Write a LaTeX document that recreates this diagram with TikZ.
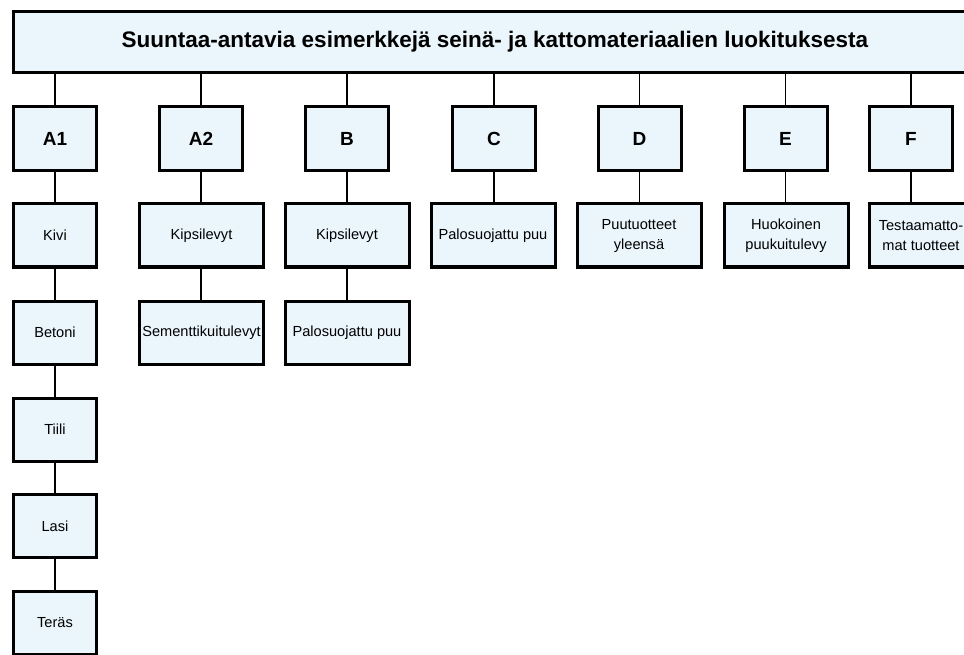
\documentclass[tikz,border=0pt]{standalone}
\usepackage{fontspec}
\setmainfont{Liberation Sans}
\definecolor{boxfill}{RGB}{234,246,251}
\begin{document}
\begin{tikzpicture}[x=1pt,y=-1pt,
  base/.style={draw=black,fill=boxfill,line width=3pt,rectangle,inner sep=0pt,align=center},
  titlebox/.style={base,minimum width=963pt,minimum height=61pt,font=\fontsize{22.5}{26}\selectfont\bfseries},
  lvl/.style={base,minimum width=83pt,minimum height=64pt,font=\fontsize{19}{22}\selectfont\bfseries},
  narrow/.style={base,minimum width=83pt,minimum height=63pt,font=\fontsize{14.6}{20}\selectfont},
  wide/.style={base,minimum width=124pt,minimum height=63pt,font=\fontsize{14.6}{20}\selectfont},
  conn/.style={draw=black,line width=1.3pt}]
\useasboundingbox (0,0) rectangle (964,655);
\clip (0,0) rectangle (964,655);
% title
\node[titlebox] (title) at (495,42) {Suuntaa-antavia esimerkkejä seinä- ja kattomateriaalien luokituksesta};
% level boxes
\node[lvl] (A1) at (55,138.5) {A1};
\node[lvl] (A2) at (201,138.5) {A2};
\node[lvl] (B) at (347,138.5) {B};
\node[lvl] (C) at (494,138.5) {C};
\node[lvl] (D) at (639.5,138.5) {D};
\node[lvl] (E) at (785.5,138.5) {E};
\node[lvl] (F) at (911,138.5) {F};
% A1 column
\node[narrow] (kivi) at (55,235.5) {Kivi};
\node[narrow] (betoni) at (55,332.5) {Betoni};
\node[narrow] (tiili) at (55,429.5) {Tiili};
\node[narrow] (lasi) at (55,526) {Lasi};
\node[narrow] (teras) at (55,623) {Teräs};
% A2 column
\node[wide] (a2kipsi) at (201.5,235.5) {Kipsilevyt};
\node[wide] (sementti) at (201.5,332.5) {Sementtikuitulevyt};
% B column
\node[wide] (bkipsi) at (347,235.5) {Kipsilevyt};
\node[wide] (bpalo) at (347,332.5) {Palosuojattu puu};
% C, D, E, F
\node[wide] (cpalo) at (493,235.5) {Palosuojattu puu};
\node[wide] (dpuu) at (639,235.5) {Puutuotteet\\yleensä};
\node[wide] (ehuok) at (786,235.5) {Huokoinen\\puukuitulevy};
\node[base,minimum width=103pt,minimum height=63pt,font=\fontsize{14.6}{20}\selectfont] (ftest) at (921,235.5) {Testaamatto-\\mat tuotteet};
% connectors title -> levels
\foreach \n in {A1,A2,B,C,D,E,F}
  \draw[conn] (\n.north) -- (\n.north |- title.south);
% level -> first items
\draw[conn] (A1.south) -- (kivi.north);
\draw[conn] (kivi.south) -- (betoni.north);
\draw[conn] (betoni.south) -- (tiili.north);
\draw[conn] (tiili.south) -- (lasi.north);
\draw[conn] (lasi.south) -- (teras.north);
\draw[conn] (A2.south) -- (A2.south |- a2kipsi.north);
\draw[conn] (A2.south |- a2kipsi.south) -- (A2.south |- sementti.north);
\draw[conn] (B.south) -- (bkipsi.north);
\draw[conn] (bkipsi.south) -- (bpalo.north);
\draw[conn] (C.south) -- (C.south |- cpalo.north);
\draw[conn] (D.south) -- (D.south |- dpuu.north);
\draw[conn] (E.south) -- (E.south |- ehuok.north);
\draw[conn] (F.south) -- (F.south |- ftest.north);
\end{tikzpicture}
\end{document}
